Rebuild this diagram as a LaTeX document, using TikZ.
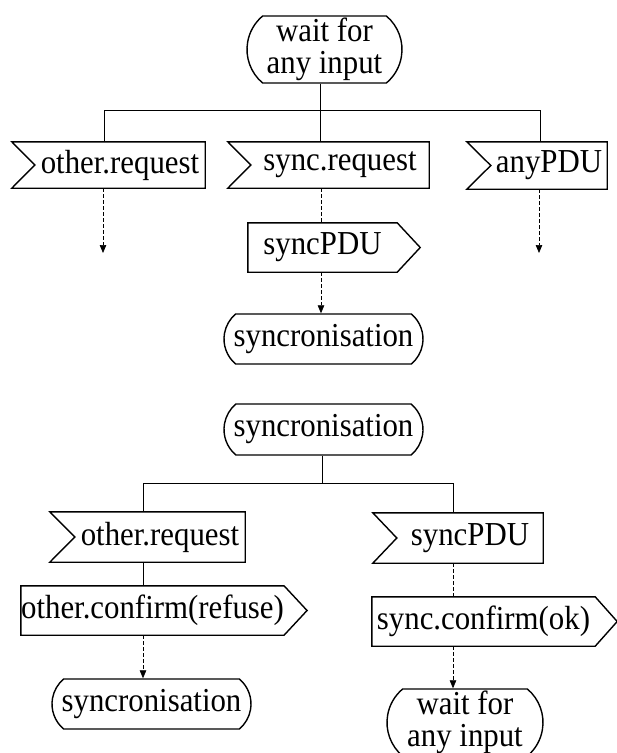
\documentclass[tikz,border=0pt]{standalone}
\usepackage{fontspec}
\setmainfont[FakeStretch=0.92]{Liberation Serif}
\usetikzlibrary{shapes.misc,arrows.meta}
\tikzset{
  shapeline/.style={draw=black,line width=1.4pt,line join=miter},
  conn/.style={draw=black,line width=0.7pt},
  dashconn/.style={draw=black,line width=0.7pt,dash pattern=on 3.5pt off 2.5pt},
  dasharrow/.style={dashconn,-{Triangle[length=8pt,width=6.5pt]}},
  lbl/.style={inner sep=0pt,font=\fontsize{33.5}{32}\selectfont,align=center},
  term/.style={lbl,shapeline,rounded rectangle,rounded rectangle arc length=100},
}
\newcommand\drawIn[2]{\draw[shapeline] ([xshift=-#2]#1.north west) -- (#1.north east) -- (#1.south east) -- ([xshift=-#2]#1.south west) -- (#1.west) -- cycle;}
\newcommand\drawOut[2]{\draw[shapeline] (#1.north west) -- (#1.north east) -- ([xshift=#2]#1.east) -- (#1.south east) -- (#1.south west) -- cycle;}
\begin{document}
\begin{tikzpicture}[x=1pt,y=-1pt]
\useasboundingbox (0,0) rectangle (617,753);
% top part
\node[term,minimum width=155pt,minimum height=67pt] (T1) at (324.5,49.5) {wait for\\any input};
\node[lbl,minimum width=170pt,minimum height=46pt] (I1) at (120,165) {other.request};
\node[lbl,minimum width=178pt,minimum height=46pt] (I2) at (340,165) {sync.request};
\node[lbl,minimum width=116pt,minimum height=47pt] (I3) at (549,165.5) {anyPDU};
\drawIn{I1}{23pt}
\drawIn{I2}{23pt}
\drawIn{I3}{24pt}
\node[lbl,minimum width=149pt,minimum height=49pt] (O1) at (322.5,247.5) {syncPDU};
\drawOut{O1}{23pt}
\node[term,minimum width=199pt,minimum height=50pt] (S1) at (323.5,339) {syncronisation};
% bottom part
\node[term,minimum width=199pt,minimum height=51pt] (S2) at (323.5,429.5) {syncronisation};
\node[lbl,minimum width=170pt,minimum height=50pt] (I4) at (160,537) {other.request};
\drawIn{I4}{25pt}
\node[lbl,minimum width=261pt,minimum height=49pt] (O2) at (152.5,610.5) {other.confirm(refuse)};
\drawOut{O2}{23pt}
\node[term,minimum width=199pt,minimum height=50pt] (S3) at (151.5,704) {syncronisation};
\node[lbl,minimum width=146pt,minimum height=50pt] (I5) at (470,538) {syncPDU};
\drawIn{I5}{24pt}
\node[lbl,minimum width=223pt,minimum height=49pt] (O3) at (483.5,621.5) {sync.confirm(ok)};
\drawOut{O3}{22pt}
\node[term,minimum width=156pt,minimum height=67pt] (T2) at (465,722.5) {wait for\\any input};
% junction coordinates
\coordinate (jT) at (320,110);
\coordinate (jL) at (104,110);
\coordinate (jR) at (540,110);
\coordinate (aL) at (103,253);
\coordinate (aR) at (539,253);
\coordinate (cM) at (321,0);
\coordinate (jB) at (322,483);
\coordinate (jL2) at (143,483);
\coordinate (jR2) at (453,483);
% connectors top
\draw[conn] (T1.south -| jT) -- (I2.north -| jT);
\draw[conn] (jL) -- (jR);
\draw[conn] (jL) -- (I1.north -| jL);
\draw[conn] (jR) -- (I3.north -| jR);
\draw[dasharrow] (I1.south -| aL) -- (aL);
\draw[dasharrow] (I3.south -| aR) -- (aR);
\draw[dashconn] (I2.south -| cM) -- (O1.north -| cM);
\draw[dasharrow] (O1.south -| cM) -- (S1.north -| cM);
% connectors bottom
\draw[conn] (S2.south -| jB) -- (jB);
\draw[conn] (jL2) -- (jR2);
\draw[conn] (jL2) -- (I4.north -| jL2);
\draw[conn] (jR2) -- (I5.north -| jR2);
\draw[conn] (I4.south -| jL2) -- (O2.north -| jL2);
\draw[dasharrow] (O2.south -| jL2) -- (S3.north -| jL2);
\draw[dashconn] (I5.south -| jR2) -- (O3.north -| jR2);
\draw[dasharrow] (O3.south -| jR2) -- (T2.north -| jR2);
\end{tikzpicture}
\end{document}
